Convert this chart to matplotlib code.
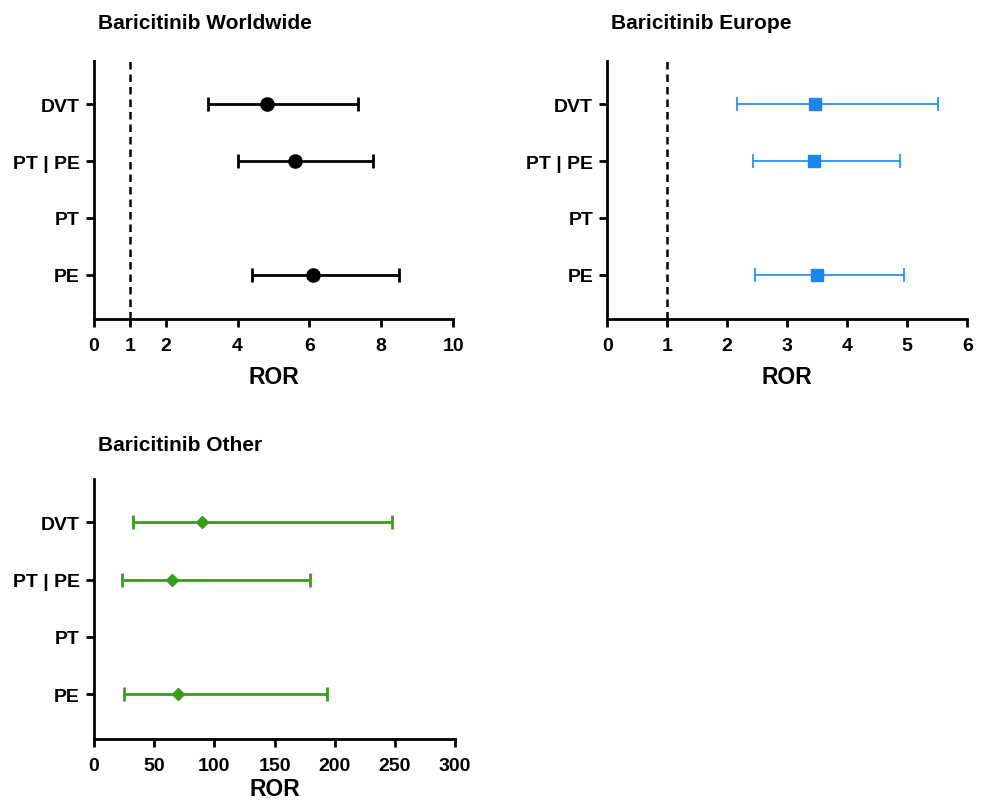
import matplotlib
matplotlib.use("Agg")
import matplotlib.pyplot as plt

plt.rcParams["font.family"] = ["Liberation Sans", "DejaVu Sans"]
plt.rcParams["font.weight"] = "bold"

categories = ["DVT", "PT | PE", "PT", "PE"]
y_pos = [4, 3, 2, 1]

# ROR with 95% CI; None for the empty PT row
world_ror = [4.82, 5.61, None, 6.09]
world_low = [3.17, 4.00, None, 4.39]
world_high = [7.35, 7.78, None, 8.48]

europe_ror = [3.47, 3.44, None, 3.49]
europe_low = [2.17, 2.43, None, 2.46]
europe_high = [5.52, 4.88, None, 4.95]

other_ror = [89.5, 64.6, None, 69.6]
other_low = [32.2, 23.3, None, 25.0]
other_high = [247.8, 179.4, None, 193.8]

world_ticks = [0, 1, 2, 4, 6, 8, 10]
europe_ticks = [0, 1, 2, 3, 4, 5, 6]
other_ticks = [0, 50, 100, 150, 200, 250, 300]


def draw_panel(ax, title, ror, low, high, ticks, color, marker, ms, lw,
               ref_line, title_off, xlabel_pad):
    ys, xs, lo, hi = [], [], [], []
    for y, r, l, h in zip(y_pos, ror, low, high):
        if r is None:
            continue
        ys.append(y)
        xs.append(r)
        lo.append(r - l)
        hi.append(h - r)
    ax.errorbar(xs, ys, xerr=[lo, hi], fmt=marker, color=color, ecolor=color,
                markersize=ms, elinewidth=lw, capsize=5, capthick=lw, zorder=3)
    if ref_line:
        ax.axvline(1, color="black", linestyle=(0, (3, 2)), linewidth=1.8, zorder=1)

    ax.set_xlim(ticks[0], ticks[-1])
    ax.set_ylim(0.22, 4.76)
    ax.set_xticks(ticks)
    ax.set_yticks(y_pos)
    ax.set_yticklabels(categories)
    ax.spines["top"].set_visible(False)
    ax.spines["right"].set_visible(False)
    ax.spines["left"].set_linewidth(2)
    ax.spines["bottom"].set_linewidth(2)
    ax.tick_params(width=2, length=6, labelsize=14)
    ax.tick_params(axis="x", pad=7)
    ax.tick_params(axis="y", pad=4)
    for lab in ax.get_xticklabels() + ax.get_yticklabels():
        lab.set_fontweight("bold")
    ax.set_xlabel("ROR", fontsize=16.5, fontweight="bold", labelpad=xlabel_pad)
    ax.annotate(title, xy=(0.01, 1.0), xycoords="axes fraction",
                xytext=(0, title_off), textcoords="offset pixels",
                fontsize=15, fontweight="bold", ha="left", va="baseline")


fig = plt.figure(figsize=(9.84, 8.03), dpi=100)
ax1 = fig.add_axes([0.0955, 0.6015, 0.365, 0.321])
ax2 = fig.add_axes([0.617, 0.6015, 0.366, 0.321])
ax3 = fig.add_axes([0.0955, 0.0785, 0.367, 0.324])

draw_panel(ax1, "Baricitinib Worldwide", world_ror, world_low, world_high,
           world_ticks, "black", "o", 9.5, 2, True, 33, 8)
draw_panel(ax2, "Baricitinib Europe", europe_ror, europe_low, europe_high,
           europe_ticks, "#1a87f0", "s", 9, 1.2, True, 33, 8)
draw_panel(ax3, "Baricitinib Other", other_ror, other_low, other_high,
           other_ticks, "#3a9c1c", "D", 6.5, 2, False, 29, 2)

fig.savefig("out.png", dpi=100)
